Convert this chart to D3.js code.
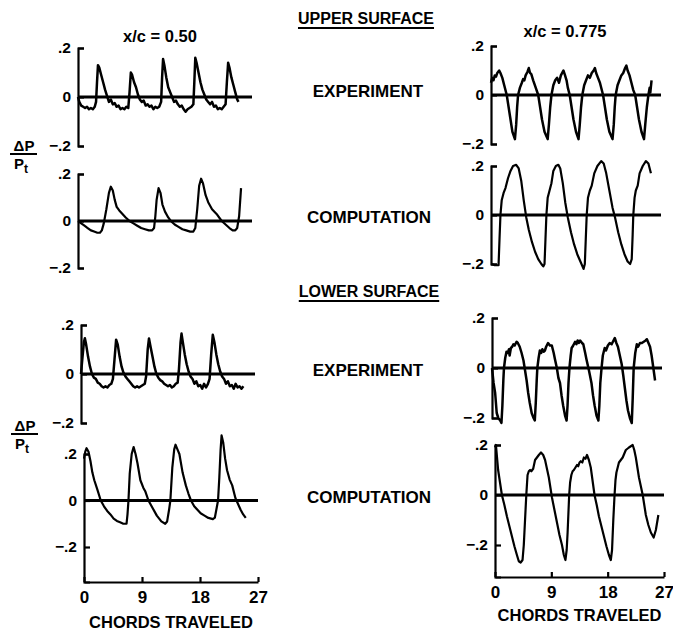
<!DOCTYPE html>
<html>
<head>
<meta charset="utf-8">
<script src="https://cdn.jsdelivr.net/npm/d3@7"></script>
<style>
  body { margin: 0; background: #fff; }
  svg text { font-family: "Liberation Sans", Arial, sans-serif; font-weight: bold; fill: #000; }
</style>
</head>
<body>
<svg id="chart" width="673" height="631"></svg>
<script>
var chordTicks = [0, 9, 18, 27];
var pressureTicks = [-0.2, 0, 0.2];

// [chords traveled, dP/Pt]
var upperExp50 = [[0,0.0],[0.2,-0.02],[0.5,-0.035],[0.8,-0.04],[1.1,-0.045],[1.4,-0.04],[1.7,-0.05],[2.0,-0.045],[2.3,-0.05],[2.6,-0.04],[2.8,-0.02],[2.95,0.06],[3.1,0.13],[3.3,0.12],[3.6,0.09],[3.9,0.06],[4.2,0.03],[4.5,0.005],[4.8,-0.02],[5.1,-0.01],[5.4,-0.03],[5.7,-0.025],[6.0,-0.04],[6.3,-0.035],[6.6,-0.05],[6.9,-0.045],[7.2,-0.05],[7.5,-0.04],[7.8,-0.045],[8.0,0.02],[8.2,0.10],[8.4,0.09],[8.7,0.06],[9.0,0.04],[9.3,0.01],[9.6,-0.01],[9.9,-0.02],[10.2,-0.015],[10.5,-0.035],[10.8,-0.03],[11.1,-0.04],[11.4,-0.035],[11.7,-0.05],[12.0,-0.04],[12.3,-0.045],[12.6,-0.04],[12.9,-0.02],[13.05,0.08],[13.2,0.155],[13.4,0.13],[13.7,0.08],[14.0,0.04],[14.3,0.02],[14.6,0.0],[14.9,-0.02],[15.2,-0.015],[15.5,-0.03],[15.8,-0.04],[16.1,-0.035],[16.4,-0.05],[16.7,-0.06],[17.0,-0.05],[17.3,-0.045],[17.6,-0.04],[17.9,-0.03],[18.05,0.06],[18.2,0.16],[18.4,0.14],[18.7,0.10],[19.0,0.06],[19.3,0.03],[19.6,0.01],[19.9,-0.01],[20.2,-0.02],[20.5,-0.03],[20.8,-0.02],[21.1,-0.04],[21.4,-0.035],[21.7,-0.05],[22.0,-0.045],[22.3,-0.05],[22.6,-0.04],[22.9,-0.03],[23.1,0.06],[23.3,0.14],[23.5,0.12],[23.8,0.08],[24.1,0.05],[24.4,0.02],[24.7,-0.01],[24.9,-0.02]];

var upperComp50 = [[0,0.0],[0.5,-0.01],[1,-0.02],[1.5,-0.03],[2,-0.04],[2.5,-0.045],[3,-0.05],[3.4,-0.05],[3.7,-0.04],[4.0,-0.01],[4.4,0.05],[4.8,0.12],[5.1,0.146],[5.4,0.13],[5.7,0.09],[6.0,0.06],[6.4,0.045],[6.9,0.03],[7.4,0.015],[8.0,0.0],[8.6,-0.01],[9.2,-0.02],[9.8,-0.03],[10.4,-0.035],[11.0,-0.04],[11.5,-0.04],[11.8,-0.03],[12.0,0.02],[12.2,0.09],[12.5,0.14],[12.8,0.12],[13.1,0.07],[13.5,0.04],[14.0,0.015],[14.4,0.0],[15.0,-0.015],[15.6,-0.025],[16.2,-0.035],[16.8,-0.04],[17.4,-0.045],[17.9,-0.045],[18.2,-0.03],[18.5,0.05],[18.8,0.15],[19.1,0.18],[19.4,0.16],[19.8,0.11],[20.2,0.08],[20.8,0.05],[21.5,0.03],[22.3,0.0],[22.9,-0.015],[23.5,-0.03],[24.0,-0.04],[24.4,-0.04],[24.7,-0.03],[25.0,0.02],[25.3,0.14]];

var upperExp775 = [[0,0.05],[0.2,0.07],[0.4,0.06],[0.6,0.08],[0.8,0.075],[1.0,0.09],[1.3,0.1],[1.5,0.09],[1.8,0.07],[2.1,0.04],[2.5,0.0],[2.8,-0.05],[3.1,-0.1],[3.4,-0.15],[3.8,-0.18],[4.0,-0.12],[4.15,-0.05],[4.3,0.0],[4.6,0.03],[4.9,0.05],[5.1,0.065],[5.3,0.06],[5.5,0.08],[5.8,0.095],[6.0,0.11],[6.2,0.09],[6.4,0.085],[6.7,0.06],[7.1,0.03],[7.5,0.0],[7.8,-0.05],[8.1,-0.1],[8.5,-0.15],[9.0,-0.18],[9.2,-0.12],[9.4,-0.05],[9.6,0.0],[9.9,0.04],[10.2,0.06],[10.5,0.07],[10.8,0.05],[11.1,0.08],[11.5,0.10],[11.7,0.085],[12.0,0.06],[12.2,0.03],[12.5,0.0],[12.8,-0.05],[13.1,-0.1],[13.5,-0.15],[13.9,-0.18],[14.1,-0.12],[14.3,-0.05],[14.5,0.0],[14.8,0.04],[15.1,0.06],[15.4,0.08],[15.7,0.07],[16.0,0.09],[16.3,0.1],[16.5,0.11],[16.7,0.09],[17.0,0.07],[17.3,0.05],[17.8,0.0],[18.1,-0.05],[18.4,-0.1],[18.8,-0.15],[19.3,-0.18],[19.5,-0.12],[19.65,-0.05],[19.8,0.0],[20.1,0.04],[20.4,0.06],[20.7,0.08],[21.0,0.09],[21.3,0.11],[21.5,0.12],[21.7,0.1],[22.0,0.08],[22.3,0.05],[22.6,0.02],[22.9,0.0],[23.2,-0.05],[23.5,-0.1],[23.9,-0.15],[24.3,-0.18],[24.5,-0.12],[24.75,-0.05],[25.0,0.0],[25.2,0.03],[25.3,0.01],[25.5,0.06]];

var upperComp775 = [[0.1,-0.2],[0.6,-0.205],[1.2,-0.205],[1.35,-0.1],[1.5,0.0],[1.7,0.06],[2.0,0.09],[2.3,0.11],[2.7,0.15],[3.1,0.18],[3.5,0.2],[4.0,0.205],[4.4,0.19],[4.8,0.14],[5.2,0.06],[5.6,-0.01],[6.0,-0.06],[6.5,-0.11],[7.0,-0.15],[7.5,-0.18],[8.0,-0.2],[8.3,-0.21],[8.5,-0.2],[8.65,-0.1],[8.8,0.0],[9.0,0.07],[9.3,0.1],[9.6,0.13],[9.9,0.18],[10.3,0.2],[10.7,0.205],[11.0,0.19],[11.4,0.13],[11.8,0.05],[12.2,-0.01],[12.7,-0.07],[13.2,-0.12],[13.7,-0.16],[14.2,-0.19],[14.7,-0.22],[14.9,-0.2],[15.05,-0.1],[15.2,0.0],[15.4,0.07],[15.7,0.1],[16.0,0.12],[16.4,0.17],[16.9,0.2],[17.5,0.22],[17.9,0.21],[18.3,0.17],[18.8,0.1],[19.3,0.03],[19.7,-0.01],[20.2,-0.07],[20.7,-0.12],[21.2,-0.16],[21.7,-0.19],[22.1,-0.2],[22.35,-0.18],[22.5,-0.08],[22.6,0.0],[22.8,0.07],[23.0,0.1],[23.3,0.12],[23.6,0.17],[24.1,0.2],[24.6,0.22],[25.0,0.21],[25.4,0.17]];

var lowerExp50 = [[0,0.0],[0.2,0.06],[0.45,0.13],[0.6,0.146],[0.8,0.12],[1.1,0.07],[1.4,0.03],[1.7,0.0],[2.0,-0.015],[2.3,-0.02],[2.6,-0.035],[2.9,-0.04],[3.2,-0.05],[3.5,-0.055],[3.8,-0.05],[4.1,-0.055],[4.4,-0.045],[4.7,-0.04],[4.95,-0.02],[5.2,0.06],[5.45,0.14],[5.7,0.12],[6.0,0.07],[6.3,0.03],[6.6,0.005],[6.9,-0.01],[7.2,-0.02],[7.5,-0.03],[7.8,-0.04],[8.1,-0.05],[8.4,-0.055],[8.7,-0.05],[9.0,-0.055],[9.3,-0.05],[9.6,-0.045],[9.9,-0.04],[10.1,-0.01],[10.35,0.1],[10.55,0.145],[10.8,0.11],[11.1,0.07],[11.4,0.03],[11.7,0.0],[12.0,-0.015],[12.3,-0.025],[12.6,-0.03],[12.9,-0.04],[13.2,-0.045],[13.5,-0.05],[13.8,-0.045],[14.1,-0.055],[14.4,-0.05],[14.7,-0.04],[15.0,-0.035],[15.2,0.02],[15.45,0.13],[15.6,0.165],[15.8,0.13],[16.1,0.08],[16.4,0.04],[16.7,0.01],[17.0,-0.01],[17.3,-0.02],[17.6,-0.04],[17.9,-0.03],[18.2,-0.05],[18.5,-0.045],[18.8,-0.06],[19.1,-0.04],[19.4,-0.055],[19.7,-0.04],[19.95,-0.02],[20.2,0.08],[20.45,0.16],[20.7,0.13],[21.0,0.08],[21.3,0.04],[21.6,0.01],[21.9,-0.01],[22.2,-0.02],[22.5,-0.04],[22.8,-0.03],[23.1,-0.05],[23.4,-0.045],[23.7,-0.06],[24.0,-0.04],[24.3,-0.055],[24.6,-0.05],[24.9,-0.06],[25.2,-0.05]];

var lowerComp50 = [[0,0.18],[0.2,0.21],[0.4,0.225],[0.7,0.21],[1.0,0.17],[1.3,0.12],[1.6,0.087],[2.1,0.045],[2.6,0.0],[3.1,-0.025],[3.6,-0.045],[4.1,-0.06],[4.6,-0.078],[5.1,-0.088],[5.6,-0.094],[6.1,-0.1],[6.6,-0.1],[6.75,-0.06],[6.9,0.0],[7.1,0.117],[7.4,0.2],[7.7,0.23],[8.0,0.2],[8.3,0.16],[8.75,0.087],[9.2,0.055],[9.5,0.04],[10.0,0.0],[10.6,-0.03],[11.3,-0.065],[12.0,-0.09],[12.6,-0.1],[12.9,-0.09],[13.2,-0.04],[13.4,0.0],[13.7,0.14],[14.0,0.22],[14.2,0.24],[14.5,0.22],[14.8,0.2],[15.3,0.12],[15.8,0.065],[16.2,0.03],[16.6,0.0],[17.1,-0.025],[17.6,-0.04],[18.1,-0.055],[18.7,-0.065],[19.3,-0.075],[20.0,-0.08],[20.3,-0.074],[20.6,-0.03],[20.8,0.0],[21.0,0.1],[21.2,0.22],[21.35,0.28],[21.6,0.25],[21.9,0.18],[22.2,0.13],[22.6,0.09],[23.0,0.065],[23.5,0.01],[23.9,-0.015],[24.3,-0.04],[24.7,-0.06],[25.1,-0.075]];

var lowerExp775 = [[0,0.0],[0.25,-0.06],[0.5,-0.1],[0.75,-0.18],[1.0,-0.2],[1.3,-0.21],[1.5,-0.22],[1.65,-0.15],[1.8,-0.05],[1.9,0.0],[2.1,0.04],[2.3,0.065],[2.5,0.06],[2.7,0.075],[2.8,0.05],[3.0,0.08],[3.2,0.085],[3.4,0.095],[3.6,0.09],[3.9,0.105],[4.1,0.1],[4.4,0.085],[4.7,0.06],[5.0,0.03],[5.25,-0.01],[5.5,-0.05],[5.75,-0.1],[6.0,-0.14],[6.3,-0.18],[6.6,-0.2],[6.8,-0.21],[6.95,-0.14],[7.1,-0.05],[7.2,0.0],[7.4,0.04],[7.6,0.07],[7.8,0.06],[8.0,0.075],[8.2,0.065],[8.4,0.07],[8.6,0.085],[8.9,0.1],[9.2,0.09],[9.5,0.09],[9.8,0.06],[10.0,0.035],[10.3,0.0],[10.55,-0.04],[10.8,-0.06],[11.05,-0.11],[11.3,-0.15],[11.6,-0.19],[11.85,-0.21],[12.0,-0.15],[12.15,-0.06],[12.3,0.0],[12.5,0.05],[12.65,0.08],[12.9,0.09],[13.2,0.105],[13.4,0.095],[13.6,0.11],[13.8,0.1],[14.0,0.11],[14.3,0.1],[14.5,0.095],[14.8,0.06],[15.0,0.035],[15.4,-0.01],[15.8,-0.06],[16.05,-0.11],[16.3,-0.15],[16.6,-0.19],[16.9,-0.21],[17.05,-0.15],[17.2,-0.06],[17.4,0.0],[17.6,0.05],[17.9,0.08],[18.1,0.07],[18.4,0.09],[18.7,0.1],[19.0,0.095],[19.3,0.11],[19.5,0.12],[19.75,0.1],[20.0,0.085],[20.3,0.05],[20.6,0.015],[20.85,-0.03],[21.1,-0.08],[21.35,-0.13],[21.6,-0.17],[21.9,-0.2],[22.2,-0.22],[22.35,-0.12],[22.5,0.0],[22.75,0.06],[23.0,0.095],[23.2,0.085],[23.5,0.1],[23.8,0.1],[24.1,0.105],[24.4,0.11],[24.6,0.115],[24.85,0.1],[25.1,0.085],[25.35,0.05],[25.6,0.005],[25.9,-0.05]];

var lowerComp775 = [[0,0.19],[0.15,0.2],[0.5,0.1],[0.8,0.05],[1.1,0.0],[1.5,-0.04],[1.9,-0.085],[2.3,-0.125],[2.7,-0.165],[3.1,-0.205],[3.5,-0.24],[3.8,-0.265],[4.1,-0.27],[4.4,-0.26],[4.6,-0.2],[4.8,-0.1],[5.0,0.0],[5.2,0.08],[5.4,0.095],[5.6,0.1],[5.8,0.095],[6.1,0.105],[6.4,0.14],[6.7,0.15],[7.0,0.16],[7.35,0.17],[7.7,0.16],[8.0,0.14],[8.3,0.105],[8.6,0.07],[9.1,-0.01],[9.5,-0.06],[9.9,-0.11],[10.3,-0.16],[10.7,-0.2],[11.0,-0.24],[11.25,-0.26],[11.45,-0.22],[11.6,-0.15],[11.75,-0.06],[11.85,0.0],[12.0,0.05],[12.2,0.08],[12.4,0.095],[12.6,0.1],[12.85,0.11],[13.1,0.12],[13.3,0.115],[13.5,0.13],[13.7,0.135],[13.95,0.13],[14.2,0.15],[14.45,0.145],[14.7,0.16],[15.0,0.14],[15.3,0.11],[15.6,0.055],[15.9,0.0],[16.25,-0.04],[16.6,-0.085],[17.0,-0.125],[17.4,-0.165],[17.8,-0.205],[18.2,-0.24],[18.5,-0.26],[18.7,-0.22],[18.9,-0.1],[19.1,0.0],[19.25,0.06],[19.4,0.09],[19.6,0.11],[19.8,0.13],[20.1,0.14],[20.4,0.15],[20.65,0.165],[20.9,0.18],[21.15,0.185],[21.4,0.19],[21.7,0.195],[22.0,0.2],[22.25,0.18],[22.5,0.15],[22.75,0.11],[23.0,0.07],[23.3,0.035],[23.6,0.0],[23.85,-0.04],[24.1,-0.08],[24.5,-0.12],[24.9,-0.15],[25.35,-0.17],[25.7,-0.14],[26.1,-0.08]];

// panel placement (pixels): left/right = x of 0 and 27 chords, top/bottom = y of +.2 and -.2
var panels = [
  { data: upperExp50,   left: 78,  right: 252, top: 48,  bottom: 146, weight: 2.5 },
  { data: upperComp50,  left: 78,  right: 252, top: 174, bottom: 268, weight: 2.2 },
  { data: upperExp775,  left: 491, right: 661, top: 46,  bottom: 144, weight: 2.5 },
  { data: upperComp775, left: 491, right: 661, top: 166, bottom: 264, weight: 2.2 },
  { data: lowerExp50,   left: 81,  right: 255, top: 325, bottom: 423, weight: 2.5 },
  { data: lowerComp50,  left: 84,  right: 258, top: 454, bottom: 547, weight: 2.2, xAxisAt: 582, xLabelAt: 628 },
  { data: lowerExp775,  left: 492, right: 662, top: 318, bottom: 418, weight: 2.5 },
  { data: lowerComp775, left: 495, right: 664, top: 445, bottom: 545, weight: 2.2, xAxisAt: 577, xLabelAt: 621 }
];

var svg = d3.select("#chart");

var tickFormat = function(d) {
  if (d === 0) return "0";
  return d3.format(".1f")(d).replace("0.", ".");
};

var drawPanel = function(p) {
  var x = d3.scaleLinear().domain([0, 27]).range([p.left, p.right]);
  var y = d3.scaleLinear().domain([-0.2, 0.2]).range([p.bottom, p.top]);
  var g = svg.append("g");

  // left axis, bracket shaped
  var yMin = p.xAxisAt ? y.invert(p.xAxisAt) : -0.2;
  var yAxisScale = y.copy().domain([yMin, 0.2]).range([y(yMin), y(0.2)]);
  var yAxis = g.append("g")
    .attr("transform", "translate(" + p.left + ",0)")
    .call(d3.axisLeft(yAxisScale).tickValues(pressureTicks)
      .tickSizeInner(-6).tickSizeOuter(-6).tickPadding(7).tickFormat(tickFormat));
  yAxis.selectAll("path, line").attr("stroke", "#000").attr("stroke-width", 2.2);
  yAxis.selectAll("text").style("font-size", "15.5px");

  if (p.xAxisAt) {
    var xAxis = g.append("g")
      .attr("transform", "translate(0," + p.xAxisAt + ")")
      .call(d3.axisBottom(x).tickValues(chordTicks)
        .tickSizeInner(-5).tickSizeOuter(0).tickPadding(9));
    xAxis.selectAll("path, line").attr("stroke", "#000").attr("stroke-width", 2.2);
    xAxis.selectAll("text").style("font-size", "17px");
    g.append("text")
      .attr("x", (p.left + p.right) / 2)
      .attr("y", p.xLabelAt)
      .attr("text-anchor", "middle")
      .style("font-size", "16.5px")
      .text("CHORDS TRAVELED");
  }

  g.append("line")
    .attr("x1", x(0)).attr("x2", x(27))
    .attr("y1", y(0)).attr("y2", y(0))
    .attr("stroke", "#000").attr("stroke-width", 2.8);

  g.append("path")
    .datum(p.data)
    .attr("fill", "none")
    .attr("stroke", "#000")
    .attr("stroke-width", p.weight)
    .attr("stroke-linejoin", "round")
    .attr("d", d3.line().x(function(d) { return x(d[0]); }).y(function(d) { return y(d[1]); }));
};

panels.forEach(drawPanel);

// titles and row labels
var addLabel = function(txt, cx, baseline, size, underline) {
  var t = svg.append("text")
    .attr("x", cx).attr("y", baseline)
    .attr("text-anchor", "middle")
    .style("font-size", size + "px")
    .text(txt);
  if (underline) {
    var w = t.node().getComputedTextLength();
    svg.append("line")
      .attr("x1", cx - w / 2).attr("x2", cx + w / 2)
      .attr("y1", baseline + 4).attr("y2", baseline + 4)
      .attr("stroke", "#000").attr("stroke-width", 1.8);
  }
};

addLabel("x/c = 0.50", 160, 42, 16.5);
addLabel("x/c = 0.775", 565, 37, 16.5);
addLabel("UPPER SURFACE", 366, 24, 16, true);
addLabel("EXPERIMENT", 368, 97, 17);
addLabel("COMPUTATION", 369, 223, 17);
addLabel("LOWER SURFACE", 369, 297, 16, true);
addLabel("EXPERIMENT", 368, 376, 17);
addLabel("COMPUTATION", 369, 503, 17);

// dP / Pt fraction labels
var addFraction = function(cx, lineY) {
  svg.append("text")
    .attr("x", cx).attr("y", lineY - 3)
    .attr("text-anchor", "middle")
    .style("font-size", "15px")
    .text("\u0394P");
  svg.append("line")
    .attr("x1", cx - 14).attr("x2", cx + 13)
    .attr("y1", lineY).attr("y2", lineY)
    .attr("stroke", "#000").attr("stroke-width", 2);
  var pt = svg.append("text")
    .attr("x", cx - 3).attr("y", lineY + 15)
    .attr("text-anchor", "middle")
    .style("font-size", "15px");
  pt.append("tspan").text("P");
  pt.append("tspan").attr("dy", 4).style("font-size", "12px").text("t");
};

addFraction(24, 154);
addFraction(25, 434);
</script>
</body>
</html>
